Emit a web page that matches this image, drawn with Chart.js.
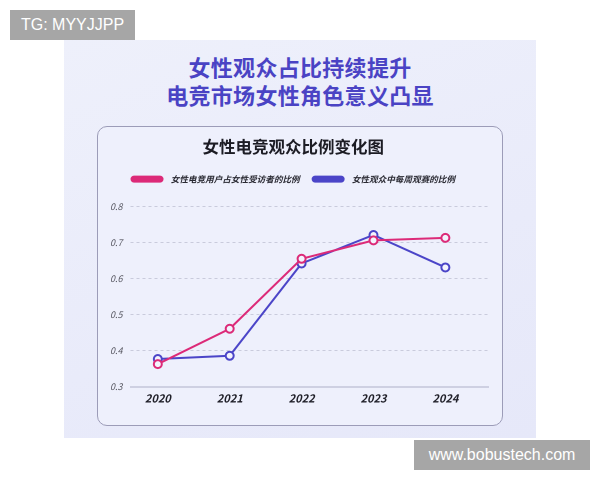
<!DOCTYPE html>
<html lang="zh-CN">

<head>
    <meta charset="UTF-8">
    <title>女性电竞观众比例变化图</title>
    <script src="https://cdn.jsdelivr.net/npm/chart.js"></script>
    <style>
        body {
            margin: 0;
            width: 600px;
            height: 480px;
            background: #fff;
            position: relative;
            overflow: hidden;
            font-family: "Noto Sans CJK SC", "Noto Sans", sans-serif;
        }

        .tag {
            position: absolute;
            background: #a6a6a6;
            color: #fff;
            font-family: "Liberation Sans", Arial, sans-serif;
            font-size: 16px;
            line-height: 30px;
            text-align: center;
        }

        #panel {
            position: absolute;
            left: 64px;
            top: 40px;
            width: 472px;
            height: 398px;
            background: linear-gradient(160deg, #eef0fb 0%, #e9ebfa 60%, #e6e8f9 100%);
        }

        .headline {
            position: absolute;
            left: 0;
            width: 600px;
            text-align: center;
            font-size: 22px;
            font-weight: bold;
            color: #4a43c4;
            letter-spacing: 0.3px;
        }

        #card {
            position: absolute;
            left: 97px;
            top: 126px;
            width: 404px;
            height: 298px;
            border: 1.5px solid #9c9cb8;
            border-radius: 10px;
            background: #eef0fc;
        }
    </style>
</head>

<body>
    <div id="panel"></div>
    <div class="headline" style="top:50px;">女性观众占比持续提升</div>
    <div class="headline" style="top:78px;">电竞市场女性角色意义凸显</div>
    <div id="card"><canvas id="chart" width="404" height="298"></canvas></div>
    <div class="tag" style="left:10px;top:10px;width:125px;height:30px;">TG: MYYJJPP</div>
    <div class="tag" style="left:414px;top:440px;width:176px;height:30px;">www.bobustech.com</div>

    <script>
        // 数据
        const years = [2020, 2021, 2022, 2023, 2024];
        const userShare = [0.363, 0.461, 0.655, 0.706, 0.713];     // 女性电竞用户占女性受访者的比例
        const weeklyShare = [0.377, 0.386, 0.642, 0.721, 0.631];   // 女性观众中每周观赛的比例
        const yTicks = [0.3, 0.4, 0.5, 0.6, 0.7, 0.8];

        const pink = '#dc2a78';
        const blue = '#4b45c8';
        const cjk = '"Noto Sans CJK SC", "Noto Sans", sans-serif';

        function toPoints(values) {
            return years.map((y, i) => ({ x: y, y: values[i] }));
        }

        function lineSet(label, values, color) {
            return {
                label: label,
                data: toPoints(values),
                borderColor: color,
                backgroundColor: color,
                borderWidth: 2,
                pointRadius: 4,
                pointHoverRadius: 4,
                pointBorderWidth: 2,
                pointBackgroundColor: '#f3f3fd',
                pointBorderColor: color,
                tension: 0
            };
        }

        // 图例下方留出空隙
        const legendGap = {
            id: 'legendGap',
            beforeInit(chart) {
                const fit = chart.legend.fit;
                chart.legend.fit = function () {
                    fit.call(this);
                    this.height = 44.7;
                };
            }
        };

        const chart = new Chart(document.getElementById('chart'), {
            type: 'line',
            data: {
                datasets: [
                    lineSet('女性电竞用户占女性受访者的比例', userShare, pink),
                    lineSet('女性观众中每周观赛的比例', weeklyShare, blue)
                ]
            },
            plugins: [legendGap],
            options: {
                responsive: false,
                animation: false,
                devicePixelRatio: 2,
                layout: {
                    padding: { left: 0, right: 13.5, top: 10, bottom: 15 }
                },
                plugins: {
                    title: {
                        display: true,
                        text: '女性电竞观众比例变化图',
                        color: '#1c1c24',
                        font: { family: cjk, size: 16.5, weight: 'bold' },
                        padding: { top: 0, bottom: 5 }
                    },
                    legend: {
                        position: 'top',
                        labels: {
                            boxWidth: 31,
                            boxHeight: 5,
                            useBorderRadius: true,
                            borderRadius: 2.5,
                            color: '#2a2a33',
                            padding: 13,
                            font: { family: cjk, size: 8.6, weight: 'bold', style: 'italic' },
                            generateLabels: (c) => Chart.defaults.plugins.legend.labels.generateLabels(c)
                                .map(item => Object.assign(item, { text: '  ' + item.text }))
                        }
                    },
                    tooltip: { enabled: false }
                },
                scales: {
                    x: {
                        type: 'linear',
                        min: 2019.62,
                        max: 2024.6,
                        afterBuildTicks: (s) => { s.ticks = years.map(v => ({ value: v })); },
                        grid: { display: false, drawTicks: false },
                        border: { display: true, color: '#aeb0c8', width: 1 },
                        ticks: {
                            padding: 5,
                            color: '#1f1f28',
                            callback: (v) => String(v),
                            font: { family: cjk, size: 11, weight: 'bold', style: 'italic' }
                        }
                    },
                    y: {
                        min: 0.3,
                        max: 0.8,
                        afterBuildTicks: (s) => { s.ticks = yTicks.map(v => ({ value: v })); },
                        afterFit: (s) => { s.width = 32.5; },
                        grid: { color: '#c9cbdc', drawTicks: false },
                        border: { display: false, dash: [3, 3] },
                        ticks: {
                            padding: 8,
                            color: '#55555f',
                            callback: (v) => v.toFixed(1),
                            font: { family: cjk, size: 9, style: 'italic' }
                        }
                    }
                }
            }
        });
    </script>
</body>

</html>
